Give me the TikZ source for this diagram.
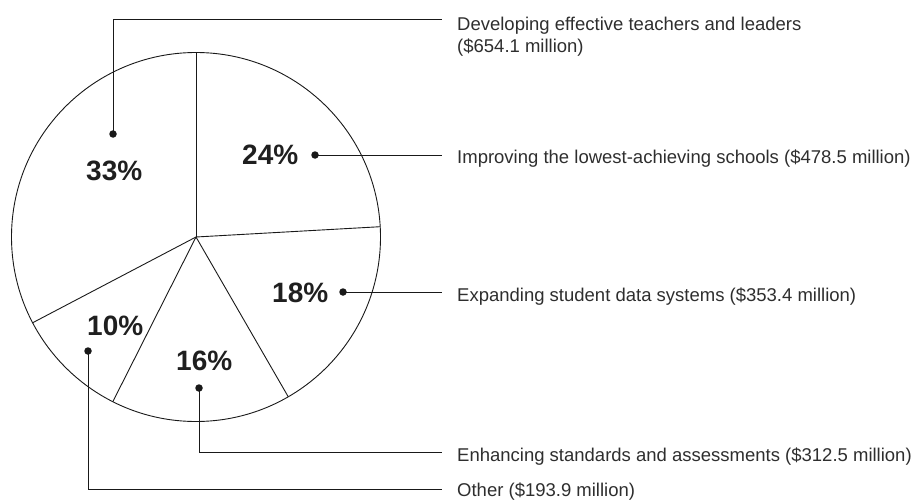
\documentclass[tikz,border=0pt]{standalone}
\usepackage{fontspec}
\setmainfont{Liberation Sans}
\begin{document}
\begin{tikzpicture}[x=1pt,y=-1pt,
  pieline/.style={draw=black!90,line width=0.9pt},
  leader/.style={draw=black!90,line width=0.8pt},
  dotmark/.style={circle,fill=black!90,inner sep=0pt,minimum size=7.5pt},
  pct/.style={anchor=base west,inner sep=0pt,font=\fontsize{28}{30}\selectfont\bfseries,text=black!88},
  lbl/.style={anchor=base west,inner sep=0pt,font=\fontsize{18.5}{22}\selectfont,text=black!82,align=left}]
\useasboundingbox (0,0) rectangle (923,500);
% pie (angles negated because the y axis points down)
\coordinate (c) at (196,237);
\draw[pieline] (c) circle[radius=184.5];
\draw[pieline] (c) -- ++(-90:184.5);
\draw[pieline] (c) -- ++(-3.2:184.5);
\draw[pieline] (c) -- ++(60:184.5);
\draw[pieline] (c) -- ++(116.8:184.5);
\draw[pieline] (c) -- ++(152.3:184.5);
% percent labels
\node[pct] (p33) at (86,180) {33\%};
\node[pct] (p24) at (242,164) {24\%};
\node[pct] (p18) at (272,302.5) {18\%};
\node[pct] (p10) at (87,335) {10\%};
\node[pct] (p16) at (176,370) {16\%};
% dots
\node[dotmark] (d33) at (113,134) {};
\node[dotmark] (d24) at (315,155) {};
\node[dotmark] (d18) at (343,292) {};
\node[dotmark] (d16) at (199,388) {};
\node[dotmark] (d10) at (88,351) {};
% leader ends
\coordinate (e33) at (442,19);
\coordinate (e24) at (442,155);
\coordinate (e18) at (442,292);
\coordinate (e16) at (442,452);
\coordinate (e10) at (442,489);
\draw[leader] (d33.center) |- (e33);
\draw[leader] (d24.center) -- (e24);
\draw[leader] (d18.center) -- (e18);
\draw[leader] (d16.center) |- (e16);
\draw[leader] (d10.center) |- (e10);
% texts
\node[lbl] (t33) at (457,53) {Developing effective teachers and leaders\\(\$654.1 million)};
\node[lbl] (t24) at (457,163) {Improving the lowest-achieving schools (\$478.5 million)};
\node[lbl] (t18) at (457,301) {Expanding student data systems (\$353.4 million)};
\node[lbl] (t16) at (457,461) {Enhancing standards and assessments (\$312.5 million)};
\node[lbl] (t10) at (457,496) {Other (\$193.9 million)};
\end{tikzpicture}
\end{document}
